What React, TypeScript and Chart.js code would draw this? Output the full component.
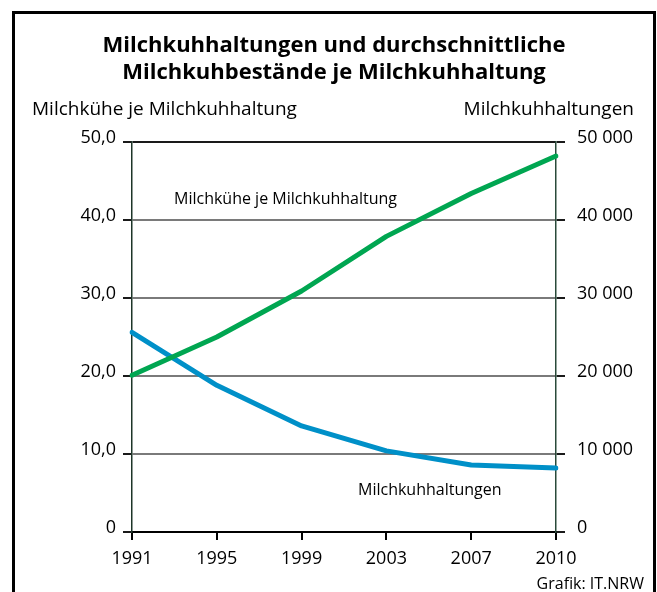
import React, { useEffect, useRef } from "react";
import { Chart, registerables } from "chart.js";

Chart.register(...registerables);

const years = ["1991", "1995", "1999", "2003", "2007", "2010"];
const kueheJeHaltung = [20.1, 25.0, 30.9, 37.9, 43.4, 48.2];
const haltungen = [25600, 18800, 13600, 10400, 8600, 8200];
const leftTicks = [0, 10, 20, 30, 40, 50];
const rightTicks = [0, 10000, 20000, 30000, 40000, 50000];

const titleLines = [
  "Milchkuhhaltungen und durchschnittliche",
  "Milchkuhbestände je Milchkuhhaltung",
];
const leftAxisTitle = "Milchkühe je Milchkuhhaltung";
const rightAxisTitle = "Milchkuhhaltungen";
const greenLabel = "Milchkühe je Milchkuhhaltung";
const blueLabel = "Milchkuhhaltungen";
const source = "Grafik: IT.NRW";

const FONT = "'Open Sans', 'Noto Sans', 'DejaVu Sans', sans-serif";

const W = 657;
const H = 592;

const decorPlugin = {
  id: "decor",
  beforeDraw(chart: any) {
    const ctx = chart.ctx;
    ctx.save();
    ctx.fillStyle = "#ffffff";
    ctx.fillRect(0, 0, W, H);
    ctx.restore();
  },
  afterDraw(chart: any) {
    const ctx = chart.ctx;
    ctx.save();
    // frame
    ctx.strokeStyle = "#000000";
    ctx.lineWidth = 3;
    ctx.beginPath();
    ctx.moveTo(13.5, H + 5);
    ctx.lineTo(13.5, 12.5);
    ctx.lineTo(654.5, 12.5);
    ctx.lineTo(654.5, H + 5);
    ctx.stroke();

    // title
    ctx.fillStyle = "#000000";
    ctx.textAlign = "center";
    ctx.textBaseline = "middle";
    ctx.font = `bold 22px ${FONT}`;
    ctx.fillText(titleLines[0], 334, 46);
    ctx.fillText(titleLines[1], 334, 73);

    // axis titles
    ctx.font = `19px ${FONT}`;
    ctx.textAlign = "left";
    ctx.fillText(leftAxisTitle, 32, 110);
    ctx.textAlign = "right";
    ctx.fillText(rightAxisTitle, 634, 110);

    // series annotations
    const y = chart.scales.y;
    ctx.font = `16px ${FONT}`;
    ctx.textAlign = "left";
    ctx.fillText(greenLabel, 174, y.getPixelForValue(42.7));
    ctx.fillText(blueLabel, 358, y.getPixelForValue(5.3));

    // source
    ctx.font = `16px ${FONT}`;
    ctx.textAlign = "right";
    ctx.fillText(source, 644, 584);
    ctx.restore();
  },
};

export default function App() {
  const ref = useRef<HTMLCanvasElement | null>(null);

  useEffect(() => {
    document.body.style.margin = "0";
    const canvas = ref.current;
    if (!canvas) return;
    const chart = new Chart(canvas, {
      type: "line",
      data: {
        labels: years,
        datasets: [
          {
            label: greenLabel,
            data: kueheJeHaltung,
            borderColor: "#00a651",
            borderWidth: 5,
            pointRadius: 0,
            tension: 0,
            yAxisID: "y",
            borderCapStyle: "round",
            borderJoinStyle: "round",
          },
          {
            label: blueLabel,
            data: haltungen,
            borderColor: "#0090c8",
            borderWidth: 5,
            pointRadius: 0,
            tension: 0,
            yAxisID: "y1",
            borderCapStyle: "round",
            borderJoinStyle: "round",
          },
        ],
      },
      options: {
        animation: false,
        responsive: false,
        maintainAspectRatio: false,
        layout: { padding: { top: 142, left: 0, right: 0, bottom: 0 } },
        plugins: {
          legend: { display: false },
          title: { display: false },
          tooltip: { enabled: false },
        },
        scales: {
          x: {
            type: "category",
            offset: false,
            grid: {
              drawOnChartArea: false,
              drawTicks: true,
              tickLength: 8,
              tickColor: "#000000",
              lineWidth: 2,
            },
            border: { display: true, color: "#000000", width: 2 },
            ticks: {
              color: "#000000",
              font: { family: FONT, size: 18 },
              padding: 8,
              maxRotation: 0,
              autoSkip: false,
            },
            afterFit(scale: any) {
              scale.height = 60;
            },
          },
          y: {
            type: "linear",
            position: "left",
            min: 0,
            max: 50,
            afterBuildTicks(scale: any) {
              scale.ticks = leftTicks.map((v) => ({ value: v }));
            },
            grid: {
              color: (c: any) =>
                c.tick && (c.tick.value === 50 || c.tick.value === 0) ? "#1a1a1a" : "#7a7a7a",
              lineWidth: 2,
              tickLength: 9,
              tickColor: "#1a1a1a",
            },
            border: { display: true, color: "#1d3528", width: 1.5 },
            ticks: {
              color: "#000000",
              font: { family: FONT, size: 18 },
              padding: 7,
              labelOffset: -4,
              callback: (v: any) => (v === 0 ? "0" : Number(v).toFixed(1).replace(".", ",")),
            },
            afterFit(scale: any) {
              scale.width = 132;
            },
          },
          y1: {
            type: "linear",
            position: "right",
            min: 0,
            max: 50000,
            afterBuildTicks(scale: any) {
              scale.ticks = rightTicks.map((v) => ({ value: v }));
            },
            grid: {
              drawOnChartArea: false,
              lineWidth: 2,
              tickLength: 9,
              tickColor: "#1a1a1a",
            },
            border: { display: true, color: "#2a4a3a", width: 1.5 },
            ticks: {
              color: "#000000",
              font: { family: FONT, size: 18 },
              padding: 12,
              labelOffset: -4,
              callback: (v: any) =>
                v === 0 ? "0" : String(v).replace(/\B(?=(\d{3})+(?!\d))/g, " "),
            },
            afterFit(scale: any) {
              scale.width = W - 556;
            },
          },
        },
      },
      plugins: [decorPlugin],
    });
    return () => chart.destroy();
  }, []);

  return (
    <div style={{ position: "absolute", left: 0, top: 0, width: W, height: H, background: "#fff" }}>
      <canvas ref={ref} width={W} height={H} style={{ width: W, height: H, display: "block" }} />
    </div>
  );
}
